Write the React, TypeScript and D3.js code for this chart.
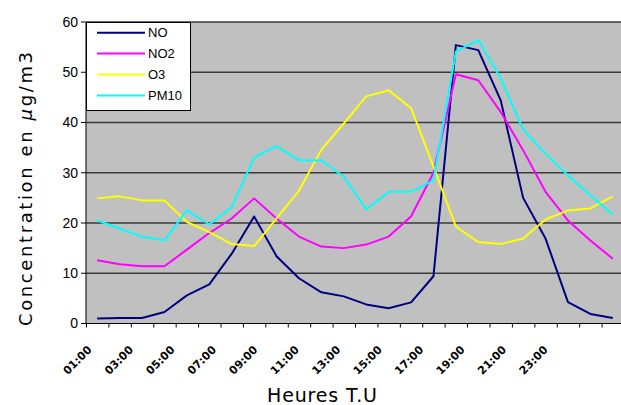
import React from 'react';
import * as d3 from 'd3';

// hourly means, 24 points
const hours = d3.range(24).map(i => `${String(i + 1).padStart(2, '0')}:00`);
const tickLabels = ['01:00', '03:00', '05:00', '07:00', '09:00', '11:00', '13:00', '15:00', '17:00', '19:00', '21:00', '23:00'];

const no = [1.0, 1.1, 1.1, 2.3, 5.6, 7.8, 13.9, 21.3, 13.4, 9.0, 6.2, 5.4, 3.8, 3.05, 4.2, 9.4, 55.4, 54.4, 44.4, 25.0, 16.9, 4.25, 1.9, 1.1];
const no2 = [12.6, 11.8, 11.4, 11.4, 14.7, 18.0, 20.9, 24.9, 20.9, 17.3, 15.3, 15.0, 15.7, 17.3, 21.3, 30.0, 49.6, 48.4, 42.1, 34.5, 26.2, 20.5, 16.5, 12.9];
const o3 = [24.9, 25.3, 24.5, 24.5, 20.2, 18.2, 15.8, 15.4, 20.9, 26.4, 34.6, 39.8, 45.2, 46.4, 42.9, 31.2, 19.3, 16.2, 15.8, 16.9, 20.7, 22.5, 22.9, 25.3];
const pm10 = [20.5, 18.9, 17.3, 16.5, 22.5, 19.7, 23.2, 33.0, 35.3, 32.5, 32.5, 29.2, 22.7, 26.2, 26.2, 28.5, 54.1, 56.4, 48.8, 38.6, 33.8, 29.5, 25.5, 21.7];

const seriesNames = ['NO', 'NO2', 'O3', 'PM10'];
const seriesValues = [no, no2, o3, pm10];
const seriesColors = ['#000080', '#ff00ff', '#ffff00', '#00ffff'];

const yTicks = [0, 10, 20, 30, 40, 50, 60];

export default function App() {
  const width = 621;
  const height = 405;
  const margin = { top: 22, left: 86, bottom: 82 };
  const plotRight = 624;
  const bottom = height - margin.bottom + 0.5;

  const x = d3.scaleBand<string>().domain(hours).range([margin.left, plotRight]);
  const y = d3.scaleLinear().domain([0, 60]).range([bottom, margin.top]);
  const labelX = d3.scalePoint<string>().domain(tickLabels).range([87, 543]);

  const line = d3.line<number>()
    .x((_, i) => (x(hours[i]) as number) + x.bandwidth() / 2)
    .y(d => y(d));

  const tickFont = '"Liberation Sans", Arial, sans-serif';
  const titleFont = '"DejaVu Sans", sans-serif';

  return (
    <svg width={width} height={height} style={{ position: 'absolute', left: 0, top: 0, background: '#fff' }}>
      <rect x={margin.left} y={margin.top} width={plotRight - margin.left} height={bottom - margin.top} fill="#c0c0c0" />
      {/* grid */}
      {yTicks.filter(t => t > 0).map(t => (
        <line key={t} x1={margin.left} x2={plotRight} y1={y(t)} y2={y(t)} stroke="#3a3a3a" strokeWidth={1.3} />
      ))}
      {/* series */}
      {seriesValues.map((vals, k) => (
        <path key={seriesNames[k]} d={line(vals) || ''} fill="none" stroke={seriesColors[k]} strokeWidth={2} strokeLinejoin="round" />
      ))}
      {/* axes */}
      <line x1={margin.left} x2={margin.left} y1={margin.top} y2={bottom} stroke="#000" />
      <line x1={margin.left - 5} x2={plotRight} y1={bottom} y2={bottom} stroke="#000" />
      {yTicks.map(t => (
        <g key={t}>
          <line x1={margin.left - 5} x2={margin.left} y1={y(t)} y2={y(t)} stroke="#000" />
          <text x={78} y={y(t)} dy="0.35em" textAnchor="end" fontFamily={tickFont} fontSize={14}>{t}</text>
        </g>
      ))}
      {hours.map(h => (
        <line key={h} x1={(x(h) as number) + 0.5} x2={(x(h) as number) + 0.5} y1={bottom} y2={bottom + 4} stroke="#000" />
      ))}
      {tickLabels.map(l => (
        <text key={l} transform={`translate(${labelX(l)},345) rotate(-45)`} textAnchor="end" dy="0.7em"
          fontFamily={titleFont} fontSize={11} fontWeight="bold">{l}</text>
      ))}
      {/* legend */}
      <rect x={margin.left + 0.5} y={margin.top + 0.5} width={104} height={88} fill="#fff" stroke="#000" />
      {seriesNames.map((n, k) => (
        <g key={n} transform={`translate(0,${32.7 + 20.9 * k})`}>
          <line x1={97} x2={145} y1={0} y2={0} stroke={seriesColors[k]} strokeWidth={2} />
          <text x={148} y={0} dy="0.35em" fontFamily={tickFont} fontSize={13}>{n}</text>
        </g>
      ))}
      {/* titles */}
      <text transform="translate(26,189) rotate(-90)" textAnchor="middle" dy="0.35em" fontFamily={titleFont} fontSize={18}
        textLength={274} lengthAdjust="spacing">
        Concentration en <tspan fontStyle="italic">µ</tspan>g/m3
      </text>
      <text x={322} y={402} textAnchor="middle" fontFamily={titleFont} fontSize={19} textLength={110} lengthAdjust="spacing">Heures T.U</text>
    </svg>
  );
}
